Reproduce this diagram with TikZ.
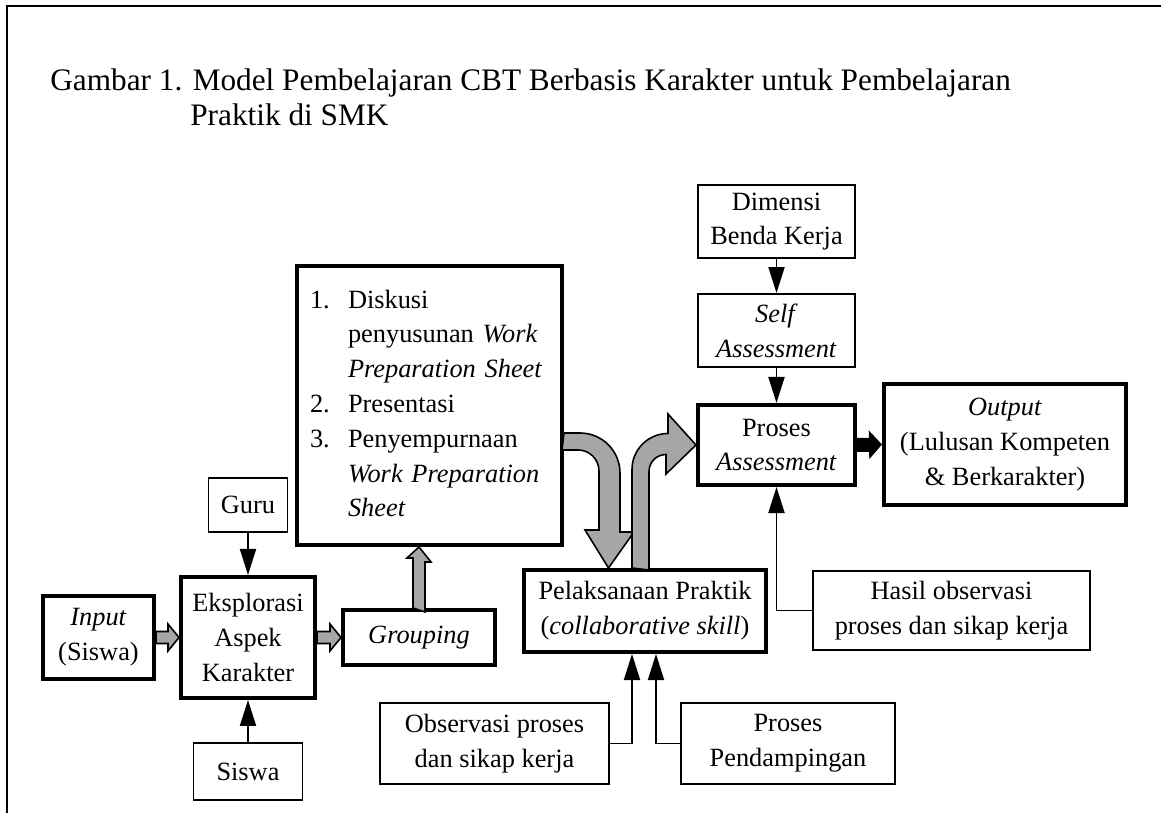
\documentclass[tikz,border=0pt]{standalone}
\usepackage{fontspec}
\setmainfont{Liberation Serif}
\usetikzlibrary{arrows.meta,calc}

\newcommand*{\pw}{1161}
\newcommand*{\ph}{813}

\begin{document}
\begin{tikzpicture}
[
	x=0.02cm, y=-0.02cm,
	every node/.style={font=\fontsize{15}{19.8}\selectfont},
	thinbox/.style={draw, line width=1.1pt, align=center, inner sep=0pt},
	thickbox/.style={thinbox, line width=2.3pt},
	conn/.style={line width=1.1pt, -{Triangle[width=0.32cm,length=0.52cm]}},
	blockarrow/.style={draw, fill=gray!70, line width=0.9pt, line join=miter},
	titletext/.style={font=\fontsize{17.8}{21}\selectfont}
]

	% page frame
	\useasboundingbox (0,0) rectangle (\pw,\ph);
	\draw[line width=1.1pt] (7,\ph) -- (7,6) -- (\pw,6);

	% caption
	\node[titletext, anchor=base west, inner sep=0pt] at (50,91) (title) {Gambar 1. Model Pembelajaran CBT Berbasis Karakter untuk Pembelajaran};
	\node[titletext, anchor=base west, inner sep=0pt] at (190,126) (title2) {Praktik di SMK};

	% left part
	\node[thickbox, minimum width=2.22cm, minimum height=1.66cm] at (98.5,637.5) (input) {\textit{Input}\\(Siswa)};
	\node[thickbox, minimum width=2.68cm, minimum height=2.42cm] at (248,637.5) (eksplorasi) {Eksplorasi\\Aspek\\Karakter};
	\node[thinbox, minimum width=1.58cm, minimum height=1.08cm] at (248,505) (guru) {Guru};
	\node[thinbox, minimum width=2.18cm, minimum height=1.14cm] at (248,771.5) (siswa) {Siswa};
	\node[thickbox, minimum width=3.04cm, minimum height=1.10cm] at (419,637.5) (grouping) {\textit{Grouping}};
	\node[thickbox, text width=4.78cm, inner xsep=0.26cm, minimum height=5.58cm, align=left] at (429.5,405.5) (list) {%
		\begin{tabular}{@{}p{0.76cm}@{}l@{}}
		1. & Diskusi\\
		   & penyusunan \textit{Work}\\
		   & \textit{Preparation Sheet}\\
		2. & Presentasi\\
		3. & Penyempurnaan\\
		   & \textit{Work Preparation}\\
		   & \textit{Sheet}
		\end{tabular}};

	% middle part
	\node[thickbox, minimum width=4.84cm, minimum height=1.64cm] at (645,611) (pelaksanaan) {Pelaksanaan Praktik\\(\textit{collaborative skill})};
	\node[thinbox, minimum width=4.58cm, minimum height=1.62cm] at (494.5,743.5) (observasi) {Observasi proses\\dan sikap kerja};
	\node[thinbox, minimum width=4.28cm, minimum height=1.62cm] at (788,743.5) (pendampingan) {Proses\\Pendampingan};

	% right part
	\node[thinbox, minimum width=3.14cm, minimum height=1.46cm] at (776.5,221.5) (dimensi) {Dimensi\\Benda Kerja};
	\node[thinbox, minimum width=3.14cm, minimum height=1.46cm] at (776.5,330.5) (self) {\textit{Self}\\\textit{Assessment}};
	\node[thickbox, minimum width=3.14cm, minimum height=1.60cm] at (776.5,445) (proses) {Proses\\\textit{Assessment}};
	\node[thickbox, minimum width=4.84cm, minimum height=2.42cm] at (1005,444.5) (output) {\textit{Output}\\(Lulusan Kompeten\\\& Berkarakter)};
	\node[thinbox, minimum width=5.54cm, minimum height=1.58cm] at (951.5,610.5) (hasil) {Hasil observasi\\proses dan sikap kerja};

	% thin arrows
	\draw[conn] (guru) -- (eksplorasi);
	\draw[conn] (siswa) -- (eksplorasi);
	\draw[conn] (dimensi) -- (self);
	\draw[conn] (self) -- (proses);
	\draw[conn] (hasil.west) -| (proses.south);
	\draw[conn] (observasi.east) -| ($(pelaksanaan.south)+(-13,0)$);
	\draw[conn] (pendampingan.west) -| ($(pelaksanaan.south)+(11,0)$);

	% gray block arrows
	\filldraw[blockarrow] ($(input.east)+(0,-6)$) -- ($(eksplorasi.west)+(-11,-6)$) -- ++(0,-7.5) -- (eksplorasi.west) -- ++(-11,13.5) -- ++(0,-7.5) -- ($(input.east)+(0,6)$) -- cycle;
	\filldraw[blockarrow] ($(eksplorasi.east)+(0,-6)$) -- ($(grouping.west)+(-11,-6)$) -- ++(0,-7.5) -- (grouping.west) -- ++(-11,13.5) -- ++(0,-7.5) -- ($(eksplorasi.east)+(0,6)$) -- cycle;
	\filldraw[blockarrow] ($(grouping.north)+(-6,0)$) -- ++(0,-50) -- ++(-6,0) -- (grouping.north |- list.south) -- ++(12,15) -- ++(-6,0) -- ++(0,50) -- cycle;

	% curved block arrows
	\filldraw[blockarrow] ($(list.east)+(0,27.5)$) -- ++(16,0)
		arc[start angle=-90, end angle=0, radius=40] -- ++(0,59) -- ++(14,0)
		-- ($(pelaksanaan.north)+(-36.5,0)$) -- ++(-23.5,-38) -- ++(14,0)
		-- ++(0,-59) arc[start angle=0, end angle=-90, radius=21] -- ++(-16,0) -- cycle;
	\filldraw[blockarrow] ($(pelaksanaan.north)+(-13,0)$) -- ++(0,-98.5)
		arc[start angle=180, end angle=270, radius=36] -- ++(0,-19.5)
		-- (proses.west) -- ++(-30,29) -- ++(0,-19.5)
		arc[start angle=270, end angle=180, radius=17] -- ++(0,98.5) -- cycle;

	% black arrow to output
	\draw[line width=0.28cm, -{Triangle[width=0.56cm,length=0.26cm]}] (proses.east) -- (output.west);

\end{tikzpicture}
\end{document}
